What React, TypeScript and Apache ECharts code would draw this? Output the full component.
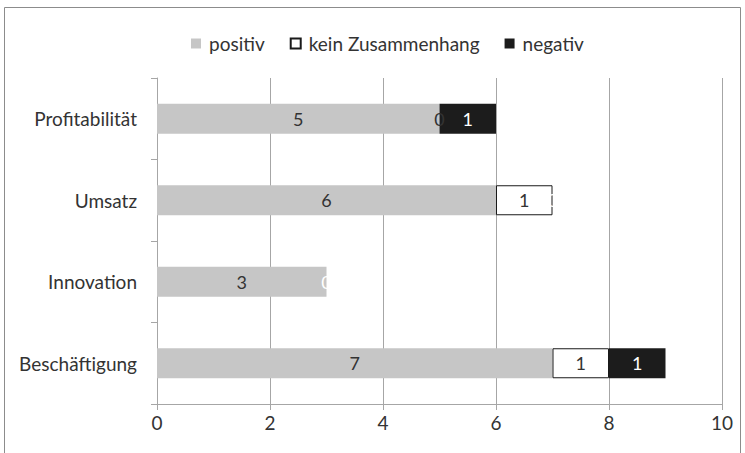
import React, { useEffect, useRef } from "react";
import * as echarts from "echarts";

const categories = ["Profitabilität", "Umsatz", "Innovation", "Beschäftigung"];
const positiv = [5, 6, 3, 7];
const keinZusammenhang = [0, 1, 0, 1];
const negativ = [1, 0, 0, 1];
const xTicks = { min: 0, max: 10, interval: 2 };

const FONT = "Lato, 'Open Sans', sans-serif";
const TEXT = "#333333";
const AXIS = "#a6a6a6";

// Empty segments get no outline; when the next segment is empty too, both labels
// sit on the same spot and only the upper one is kept.
const middleSegment = (values: number[], next: number[]) =>
  values.map((v, i) =>
    v === 0
      ? {
          value: v,
          itemStyle: { borderWidth: 0 },
          label: next[i] === 0 ? { show: false } : undefined,
        }
      : v
  );

export default function App() {
  const ref = useRef<HTMLDivElement>(null);

  useEffect(() => {
    if (!ref.current) return;
    const chart = echarts.init(ref.current, null, { renderer: "svg" });
    const label = (color: string) => ({
      show: true,
      position: "inside" as const,
      color,
      fontFamily: FONT,
      fontSize: 18,
    });
    chart.setOption({
      animation: false,
      backgroundColor: "#ffffff",
      textStyle: { fontFamily: FONT },
      graphic: [
        {
          type: "rect",
          shape: { x: 4.5, y: 7.5, width: 736, height: 460 },
          style: { fill: "none", stroke: "#8c8c8c", lineWidth: 1 },
          silent: true,
        },
      ],
      legend: {
        top: 29,
        left: 186,
        itemWidth: 10,
        itemHeight: 10,
        itemGap: 25,
        icon: "rect",
        textStyle: {
          color: TEXT,
          fontSize: 19,
          fontFamily: FONT,
          padding: [0, 0, 0, 3],
        },
        data: ["positiv", "kein Zusammenhang", "negativ"],
      },
      grid: { left: 157, right: 23, top: 78, bottom: 49, containLabel: false },
      xAxis: {
        type: "value",
        min: xTicks.min,
        max: xTicks.max,
        interval: xTicks.interval,
        axisLine: { show: true, lineStyle: { color: AXIS, width: 1 } },
        axisTick: { show: true, length: 6, lineStyle: { color: AXIS } },
        splitLine: { show: true, lineStyle: { color: AXIS, width: 1 } },
        axisLabel: { color: TEXT, fontSize: 19, fontFamily: FONT, margin: 9 },
      },
      yAxis: {
        type: "category",
        inverse: true,
        data: categories,
        axisLine: { show: true, lineStyle: { color: AXIS, width: 1 } },
        axisTick: { show: true, length: 6, lineStyle: { color: AXIS } },
        axisLabel: { color: TEXT, fontSize: 19, fontFamily: FONT, margin: 20 },
      },
      series: [
        {
          name: "positiv",
          type: "bar",
          stack: "total",
          barWidth: 30,
          data: positiv,
          itemStyle: { color: "#c6c6c6" },
          label: label(TEXT),
        },
        {
          name: "kein Zusammenhang",
          type: "bar",
          stack: "total",
          barWidth: 30,
          data: middleSegment(keinZusammenhang, negativ),
          itemStyle: { color: "#ffffff", borderColor: "#1a1a1a", borderWidth: 1 },
          label: label(TEXT),
        },
        {
          name: "negativ",
          type: "bar",
          stack: "total",
          barWidth: 30,
          data: negativ,
          itemStyle: { color: "#1c1c1c" },
          label: label("#ffffff"),
        },
      ],
    });
    return () => chart.dispose();
  }, []);

  return (
    <div
      ref={ref}
      style={{ position: "fixed", left: 0, top: 0, width: 745, height: 453 }}
    />
  );
}
